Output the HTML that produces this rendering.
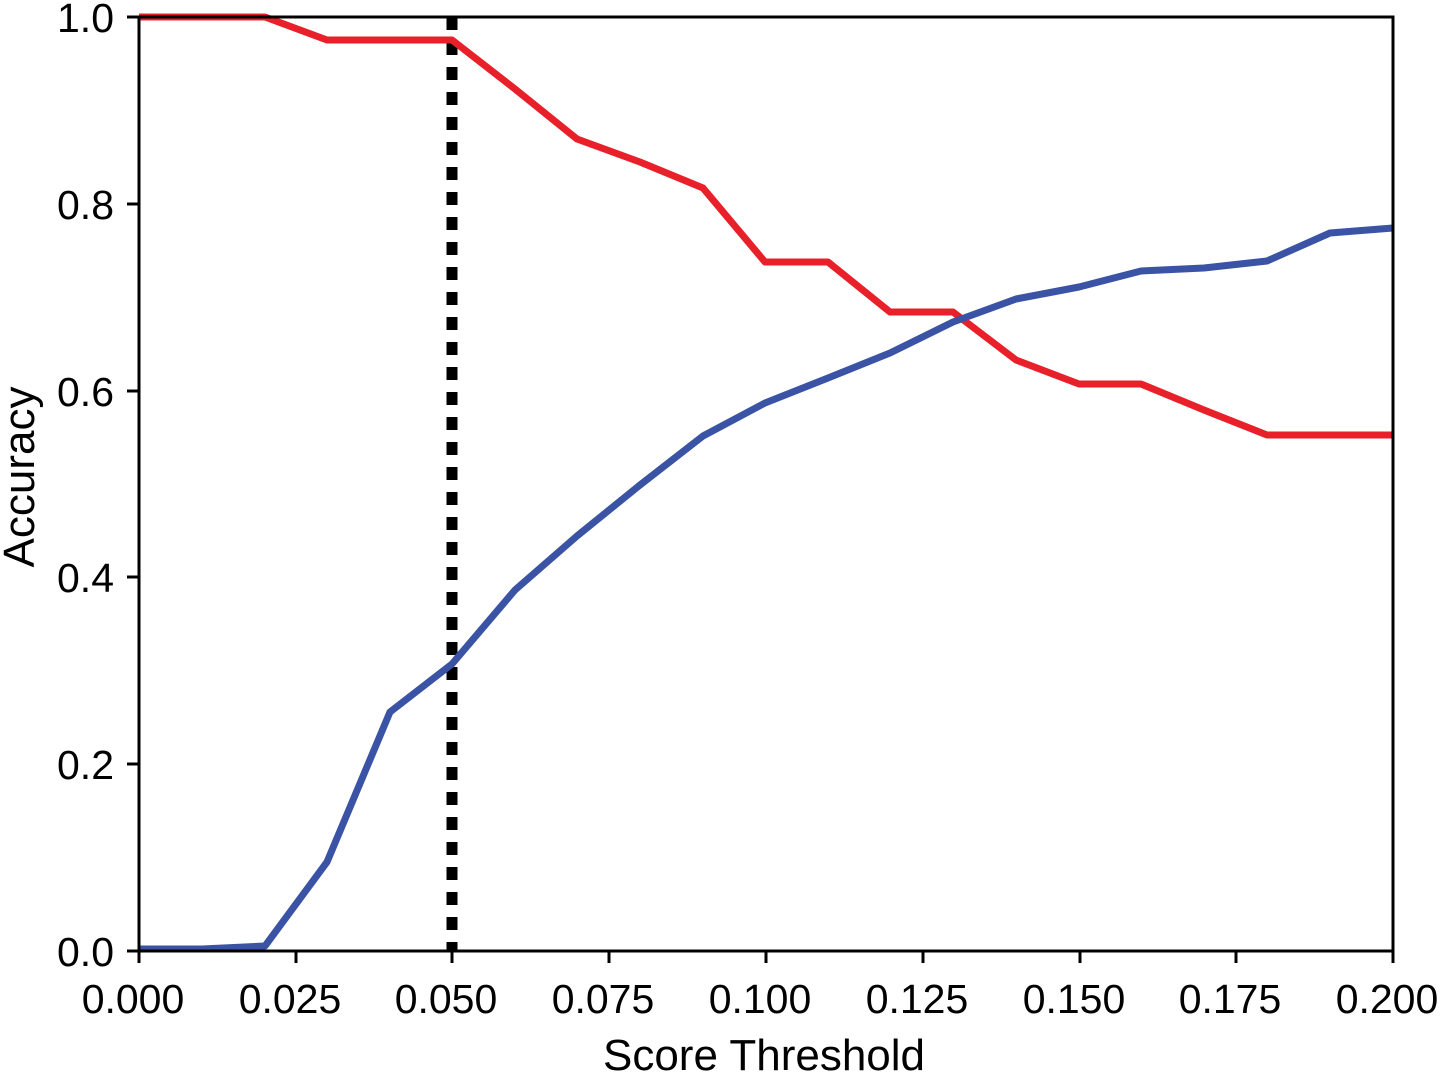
<!DOCTYPE html>
<html><head><style>html,body{margin:0;padding:0;background:#fff;}</style></head><body>
<svg width="1440" height="1074" xmlns="http://www.w3.org/2000/svg" font-family="Liberation Sans, sans-serif" font-size="41">
<rect width="1440" height="1074" fill="#fff"/>
<line x1="452" y1="17" x2="452" y2="951" stroke="#000" stroke-width="11" stroke-dasharray="13 12"/>
<polyline fill="none" stroke="#e8202a" stroke-width="7" stroke-linejoin="round" points="139,17 265,17 327,40 452,40 515,89 577,139 640,162 703,188 765,262 828,262 890,312 953,312 1016,360 1079,384 1141,384 1204,410 1267,435 1393,435"/>
<polyline fill="none" stroke="#3a53a4" stroke-width="7" stroke-linejoin="round" points="139,949 202,949 265,946 327,862 390,712 452,664 515,590 577,536 640,485 703,436 765,403 828,378 890,353 953,322 1016,299 1079,287 1141,271 1204,268 1267,261 1330,233 1393,228"/>
<rect x="139" y="17" width="1254" height="934" fill="none" stroke="#000" stroke-width="3"/>
<g stroke="#000" stroke-width="3">
<line x1="139" y1="951" x2="139" y2="963"/><line x1="296" y1="951" x2="296" y2="963"/><line x1="452" y1="951" x2="452" y2="963"/><line x1="609" y1="951" x2="609" y2="963"/><line x1="766" y1="951" x2="766" y2="963"/><line x1="923" y1="951" x2="923" y2="963"/><line x1="1080" y1="951" x2="1080" y2="963"/><line x1="1236" y1="951" x2="1236" y2="963"/><line x1="1393" y1="951" x2="1393" y2="963"/>
<line x1="127" y1="17" x2="139" y2="17"/><line x1="127" y1="204" x2="139" y2="204"/><line x1="127" y1="391" x2="139" y2="391"/><line x1="127" y1="577" x2="139" y2="577"/><line x1="127" y1="764" x2="139" y2="764"/><line x1="127" y1="951" x2="139" y2="951"/>
</g>
<g text-anchor="middle">
<text x="133" y="1013">0.000</text><text x="290" y="1013">0.025</text><text x="446" y="1013">0.050</text><text x="603" y="1013">0.075</text><text x="760" y="1013">0.100</text><text x="917" y="1013">0.125</text><text x="1074" y="1013">0.150</text><text x="1230" y="1013">0.175</text><text x="1387" y="1013">0.200</text>
<text x="764" y="1070" font-size="44">Score Threshold</text>
</g>
<g text-anchor="end">
<text x="114" y="32">1.0</text><text x="114" y="219">0.8</text><text x="114" y="406">0.6</text><text x="114" y="592">0.4</text><text x="114" y="779">0.2</text><text x="114" y="966">0.0</text>
</g>
<text transform="translate(34,477) rotate(-90)" text-anchor="middle" font-size="44">Accuracy</text>
</svg>
</body></html>
